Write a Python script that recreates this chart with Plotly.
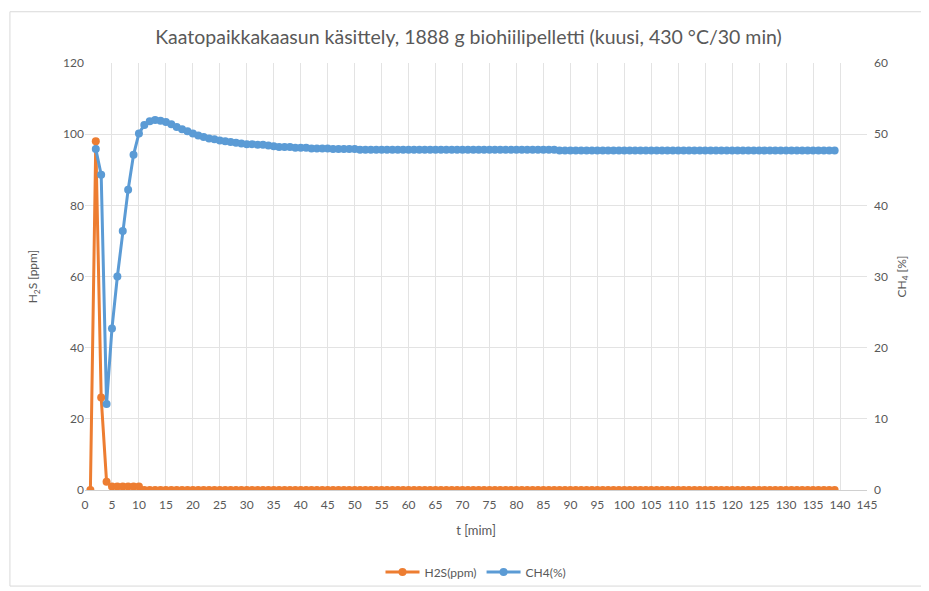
import plotly.graph_objects as go

title_text = "Kaatopaikkakaasun käsittely, 1888 g biohiilipelletti (kuusi, 430 °C/30 min)"

t_h2s = list(range(1, 140))
h2s_ppm = [0, 98, 26, 2.3, 1, 1, 1, 1, 1, 1,
           0, 0, 0, 0, 0, 0, 0, 0, 0, 0,
           0, 0, 0, 0, 0, 0, 0, 0, 0, 0,
           0, 0, 0, 0, 0, 0, 0, 0, 0, 0,
           0, 0, 0, 0, 0, 0, 0, 0, 0, 0,
           0, 0, 0, 0, 0, 0, 0, 0, 0, 0,
           0, 0, 0, 0, 0, 0, 0, 0, 0, 0,
           0, 0, 0, 0, 0, 0, 0, 0, 0, 0,
           0, 0, 0, 0, 0, 0, 0, 0, 0, 0,
           0, 0, 0, 0, 0, 0, 0, 0, 0, 0,
           0, 0, 0, 0, 0, 0, 0, 0, 0, 0,
           0, 0, 0, 0, 0, 0, 0, 0, 0, 0,
           0, 0, 0, 0, 0, 0, 0, 0, 0, 0,
           0, 0, 0, 0, 0, 0, 0, 0, 0]

t_ch4 = list(range(2, 140))
ch4_pct = [47.9, 44.3, 12.1, 22.7, 30.0, 36.4, 42.2, 47.1, 50.1,
           51.3, 51.8, 52.0, 51.9, 51.7, 51.4, 51.0, 50.7, 50.4, 50.1,
           49.8, 49.6, 49.4, 49.3, 49.1, 49.0, 48.9, 48.8, 48.7, 48.6,
           48.6, 48.5, 48.5, 48.4, 48.3, 48.2, 48.2, 48.2, 48.1, 48.1,
           48.1, 48.0, 48.0, 48.0, 48.0, 47.9, 47.9, 47.9, 47.9, 47.9,
           47.8, 47.8, 47.8, 47.8, 47.8, 47.8, 47.8, 47.8, 47.8, 47.8,
           47.8, 47.8, 47.8, 47.8, 47.8, 47.8, 47.8, 47.8, 47.8, 47.8,
           47.8, 47.8, 47.8, 47.8, 47.8, 47.8, 47.8, 47.8, 47.8, 47.8,
           47.8, 47.8, 47.8, 47.8, 47.8, 47.8, 47.8, 47.7, 47.7, 47.7,
           47.7, 47.7, 47.7, 47.7, 47.7, 47.7, 47.7, 47.7, 47.7, 47.7,
           47.7, 47.7, 47.7, 47.7, 47.7, 47.7, 47.7, 47.7, 47.7, 47.7,
           47.7, 47.7, 47.7, 47.7, 47.7, 47.7, 47.7, 47.7, 47.7, 47.7,
           47.7, 47.7, 47.7, 47.7, 47.7, 47.7, 47.7, 47.7, 47.7, 47.7,
           47.7, 47.7, 47.7, 47.7, 47.7, 47.7, 47.7, 47.7, 47.7]

ORANGE = "#ED7D31"
BLUE = "#5B9BD5"
TXT = "#595959"
GRID = "#E3E3E3"
FONT = "Lato, Open Sans, sans-serif"

fig = go.Figure()
fig.add_trace(go.Scatter(
    x=t_h2s, y=h2s_ppm, name="H2S(ppm)", mode="lines+markers",
    line=dict(color=ORANGE, width=3),
    marker=dict(color=ORANGE, size=8, symbol="circle"),
    yaxis="y"))
fig.add_trace(go.Scatter(
    x=t_ch4, y=ch4_pct, name="CH4(%)", mode="lines+markers",
    line=dict(color=BLUE, width=3),
    marker=dict(color=BLUE, size=8, symbol="circle"),
    yaxis="y2"))

fig.update_layout(
    width=921, height=583,
    margin=dict(l=77, r=62, t=55, b=101, autoexpand=False),
    paper_bgcolor="white", plot_bgcolor="white",
    font=dict(family=FONT, color=TXT, size=12),
    title=dict(text=title_text, x=0.5, xanchor="center", y=0.95, yanchor="middle",
               font=dict(size=19.5, color=TXT, family=FONT)),
    xaxis=dict(range=[0, 145], tickmode="linear", tick0=0, dtick=5,
               showgrid=True, gridcolor=GRID, gridwidth=1,
               showline=True, linecolor="#D0D0D0", linewidth=1,
               zeroline=False, ticks="", tickfont=dict(size=12, color=TXT),
               automargin=False, ticklabelstandoff=4,
               title=dict(text="t [mim]", font=dict(size=13, color=TXT), standoff=14)),
    yaxis=dict(range=[0, 120], tickmode="linear", tick0=0, dtick=20,
               showgrid=True, gridcolor=GRID, gridwidth=1,
               zeroline=False, showline=False, ticks="", automargin=False,
               tickfont=dict(size=12, color=TXT),
               title=dict(text="H<sub>2</sub>S [ppm]", font=dict(size=12, color=TXT), standoff=22)),
    yaxis2=dict(range=[0, 60], tickmode="linear", tick0=0, dtick=10,
                overlaying="y", side="right", showgrid=False, automargin=False,
                zeroline=False, showline=False, ticks="", ticklabelstandoff=6,
                tickfont=dict(size=12, color=TXT),
                title=dict(text="CH<sub>4</sub> [%]", font=dict(size=12, color=TXT), standoff=10)),
    legend=dict(orientation="h", x=0.5, xanchor="center", y=-0.192, yanchor="middle",
                font=dict(size=12, color=TXT), bgcolor="rgba(0,0,0,0)",
                itemwidth=34, tracegroupgap=0),
    showlegend=True,
)

fig.add_shape(type="rect", xref="paper", yref="paper",
              x0=-0.096, x1=1.074, y0=-0.225, y1=1.12,
              line=dict(color="#D9D9D9", width=1), fillcolor="rgba(0,0,0,0)", layer="below")

fig.write_html("out.html")
